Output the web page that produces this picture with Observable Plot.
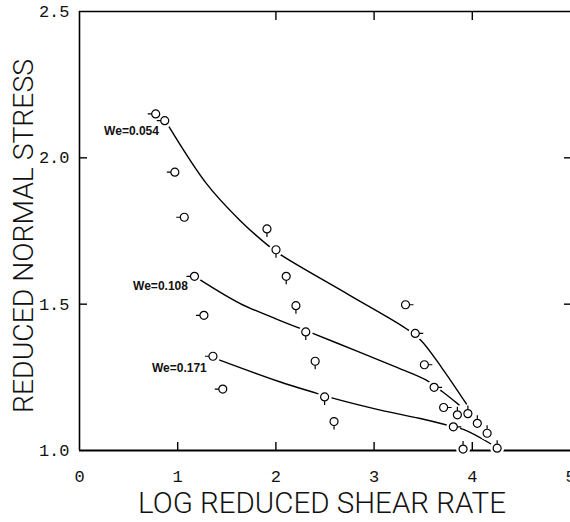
<!DOCTYPE html>
<html><head><meta charset="utf-8">
<script src="https://cdn.jsdelivr.net/npm/d3@7"></script>
<script src="https://cdn.jsdelivr.net/npm/@observablehq/plot@0.6"></script>
<style>html,body{margin:0;padding:0;background:#fff;overflow:hidden}</style>
</head><body><div id="chart"></div>
<script>
// Measured data points (log reduced shear rate, reduced normal stress)
const pointX = [0.776, 0.868, 0.971, 1.067, 1.171, 1.267, 1.359, 1.459,
                1.909, 2.001, 2.105, 2.204, 2.304, 2.400, 2.496, 2.592,
                3.320, 3.419, 3.512, 3.611, 3.708, 3.807,
                3.848, 3.955, 4.051, 4.151, 4.253, 3.906];
const pointY = [2.150, 2.127, 1.951, 1.797, 1.595, 1.462, 1.322, 1.210,
                1.757, 1.686, 1.595, 1.495, 1.405, 1.305, 1.183, 1.099,
                1.498, 1.400, 1.293, 1.216, 1.147, 1.081,
                1.122, 1.126, 1.093, 1.059, 1.008, 1.005];
const pointFlag = ["L","L","L","L","L","L","L","L",
                   "D","D","D","D","D","D","D","D",
                   "R","R","R","R","R","R",
                   "U","U","U","U","U","U"];

// Fitted curves
const curve1X = [0.914, 1.293, 1.632, 1.919, 2.071, 2.748, 3.324, 3.476, 3.695, 3.940];
const curve1Y = [2.105, 1.912, 1.787, 1.701, 1.664, 1.531, 1.417, 1.377, 1.280, 1.159];
const curve2X = [1.225, 1.632, 2.000, 2.376, 2.800, 3.200, 3.527, 3.700, 3.865];
const curve2Y = [1.584, 1.503, 1.450, 1.400, 1.343, 1.288, 1.241, 1.200, 1.156];
const curve3X = [1.428, 2.038, 2.410, 2.579, 3.053, 3.459, 3.730, 3.916, 4.187];
const curve3Y = [1.309, 1.235, 1.196, 1.179, 1.139, 1.110, 1.088, 1.071, 1.023];

const curveLabels = ["We=0.054", "We=0.108", "We=0.171"];
const labelX = [0.809, 1.104, 1.296];
const labelY = [2.090, 1.562, 1.283];

const xTicks = [0, 1, 2, 3, 4, 5];
const yTicks = [1.0, 1.5, 2.0, 2.5];
const xInnerTicks = [1, 2, 3, 4];
const xTopTicks = [2, 3, 4];
const yInnerTicks = [1.5, 2.0];
const xTitle = "LOG REDUCED SHEAR RATE";
const yTitle = "REDUCED NORMAL STRESS";

const points = pointX.map((x, i) => ({x, y: pointY[i], flag: pointFlag[i]}));
const curves = [
  ...curve1X.map((x, i) => ({x, y: curve1Y[i], c: 1})),
  ...curve2X.map((x, i) => ({x, y: curve2Y[i], c: 2})),
  ...curve3X.map((x, i) => ({x, y: curve3Y[i], c: 3}))
];
const labels = curveLabels.map((t, i) => ({t, x: labelX[i], y: labelY[i]}));

function flagSymbol(dx, dy) {
  return {draw(ctx, size) {
    const r = Math.sqrt(size / Math.PI);
    ctx.moveTo(r, 0);
    ctx.arc(0, 0, r, 0, 2 * Math.PI);
    ctx.moveTo(dx * r, dy * r);
    ctx.lineTo(dx * (r + 4), dy * (r + 4));
  }};
}
const flagDirs = {L: [-1, 0], R: [1, 0], U: [0, -1], D: [0, 1]};

const tickFont = "Liberation Mono";
const titleFont = "Roboto";

const chart = Plot.plot({
  width: 570,
  height: 522,
  marginLeft: 79,
  marginRight: 0,
  marginTop: 11,
  marginBottom: 72,
  x: {domain: [0, 5]},
  y: {domain: [1.0, 2.5]},
  marks: [
    Plot.ruleX([0], {strokeWidth: 1.6}),
    Plot.ruleY([1.0], {strokeWidth: 1.8}),
    Plot.ruleY([2.5], {strokeWidth: 1.4}),
    Plot.axisX(xInnerTicks, {anchor: "bottom", tickSize: 8, dy: -8, fill: "none", label: null, strokeWidth: 1.4}),
    Plot.axisX(xTopTicks, {anchor: "top", tickSize: 8, dy: 8, fill: "none", label: null, strokeWidth: 1.4}),
    Plot.axisY(yInnerTicks, {anchor: "left", tickSize: 8, dx: 8, fill: "none", label: null, strokeWidth: 1.4}),
    Plot.axisY(yInnerTicks, {anchor: "right", tickSize: 7, dx: -7, fill: "none", label: null, strokeWidth: 1.4}),
    Plot.axisX(xTicks, {anchor: "bottom", tickSize: 0, tickPadding: 19, stroke: "none", label: null,
      tickFormat: d3.format("d"), fontSize: 17, fontFamily: tickFont, fill: "#111"}),
    Plot.axisY(yTicks, {anchor: "left", tickSize: 0, tickPadding: 10, stroke: "none", label: null,
      tickFormat: d3.format(".1f"), fontSize: 17, fontFamily: tickFont, fill: "#111"}),
    Plot.line(curves, {x: "x", y: "y", z: "c", curve: "catmull-rom", stroke: "black", strokeWidth: 1.4}),
    Plot.dot(points, {x: "x", y: "y", r: 7, fill: "white", stroke: "none"}),
    ...Object.entries(flagDirs).map(([k, [dx, dy]]) =>
      Plot.dot(points.filter(d => d.flag === k), {x: "x", y: "y", r: 4, symbol: flagSymbol(dx, dy),
        fill: "white", stroke: "black", strokeWidth: 1.2})),
    Plot.text(labels, {x: "x", y: "y", text: "t", textAnchor: "end", fontSize: 12, fontWeight: "bold",
      fontFamily: "Liberation Sans", fill: "#111"}),
    Plot.text([xTitle], {frameAnchor: "bottom", dy: 53, dx: -3, textAnchor: "middle", lineAnchor: "middle",
      fontSize: 29.5, fontWeight: 300, fontFamily: titleFont, fill: "#111"}),
    Plot.text([yTitle], {frameAnchor: "left", dx: -56, dy: 5, rotate: -90, textAnchor: "middle", lineAnchor: "middle",
      fontSize: 28.3, fontWeight: 300, fontFamily: titleFont, fill: "#111"})
  ]
});
document.getElementById("chart").appendChild(chart);
</script>
</body></html>
